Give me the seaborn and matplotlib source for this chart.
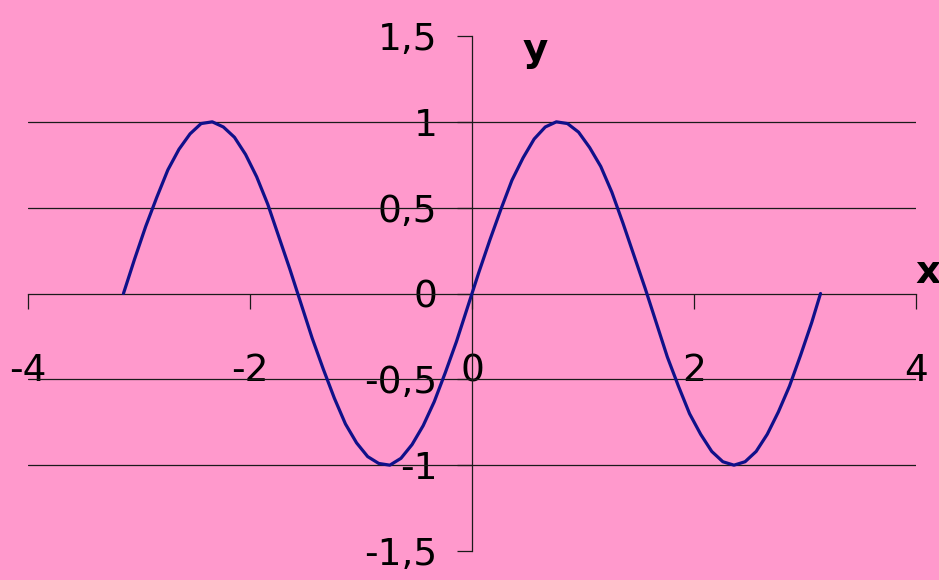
import matplotlib
matplotlib.use('Agg')
import matplotlib.pyplot as plt
import seaborn as sns
import pandas as pd

# valores (x en radianes, y = curva)
x_vals = [-3.14, -3.04, -2.94, -2.84, -2.74, -2.64, -2.54, -2.44, -2.34, -2.24,
          -2.14, -2.04, -1.94, -1.84, -1.74, -1.64, -1.54, -1.44, -1.34, -1.24,
          -1.14, -1.04, -0.94, -0.84, -0.74, -0.64, -0.54, -0.44, -0.34, -0.24,
          -0.14, -0.04, 0.06, 0.16, 0.26, 0.36, 0.46, 0.56, 0.66, 0.76,
          0.86, 0.96, 1.06, 1.16, 1.26, 1.36, 1.46, 1.56, 1.66, 1.76,
          1.86, 1.96, 2.06, 2.16, 2.26, 2.36, 2.46, 2.56, 2.66, 2.76,
          2.86, 2.96, 3.06, 3.14]
y_vals = [0.00, 0.20, 0.39, 0.56, 0.72, 0.84, 0.93, 0.99, 1.00, 0.97,
          0.91, 0.81, 0.68, 0.52, 0.33, 0.14, -0.06, -0.26, -0.44, -0.61,
          -0.76, -0.87, -0.95, -0.99, -1.00, -0.96, -0.88, -0.77, -0.63, -0.46,
          -0.28, -0.08, 0.12, 0.31, 0.49, 0.66, 0.79, 0.90, 0.97, 1.00,
          0.99, 0.94, 0.85, 0.74, 0.59, 0.41, 0.22, 0.03, -0.17, -0.37,
          -0.54, -0.70, -0.82, -0.92, -0.98, -1.00, -0.98, -0.92, -0.82, -0.69,
          -0.54, -0.36, -0.17, 0.00]
x_ticks = [-4, -2, 0, 2, 4]
y_ticks = [-1.5, -1, -0.5, 0, 0.5, 1, 1.5]
y_tick_labels = ['-1,5', '-1', '-0,5', '0', '0,5', '1', '1,5']
grid_lines = [-1, -0.5, 0.5, 1]

rosa = '#FF99CC'
sns.set_style('white', {'axes.facecolor': rosa, 'figure.facecolor': rosa,
                        'text.color': 'black', 'xtick.color': 'black',
                        'ytick.color': 'black'})
plt.rcParams['font.family'] = ['DejaVu Sans']

df = pd.DataFrame({'x': x_vals, 'y': y_vals})

fig = plt.figure(figsize=(9.39, 5.8), dpi=100)
ax = fig.add_axes([28 / 939, 1 - 551 / 580, (916 - 28) / 939, (551 - 36) / 580])

for g in grid_lines:
    ax.axhline(g, color='#1a1a1a', lw=0.9, zorder=1)

sns.lineplot(data=df, x='x', y='y', sort=False, color='#10108A', lw=2.3, ax=ax, zorder=3)

ax.set_xlim(-4, 4)
ax.set_ylim(-1.5, 1.5)
ax.spines['top'].set_visible(False)
ax.spines['right'].set_visible(False)
ax.spines['left'].set_position(('data', 0))
ax.spines['bottom'].set_position(('data', 0))
for s in ['left', 'bottom']:
    ax.spines[s].set_color('#1a1a1a')
    ax.spines[s].set_linewidth(0.9)

ax.set_xticks(x_ticks)
ax.set_xticklabels([str(t) for t in x_ticks])
ax.set_yticks(y_ticks)
ax.set_yticklabels(y_tick_labels)
ax.tick_params(axis='x', bottom=True, direction='out', length=11, width=0.9,
               color='#1a1a1a', labelcolor='black', pad=32, labelsize=27)
ax.tick_params(axis='y', left=True, direction='out', length=11, width=0.9,
               color='#1a1a1a', labelcolor='black', pad=14, labelsize=27)
ax.set_xlabel('')
ax.set_ylabel('')

fig.text(535 / 939, 1 - 50 / 580, 'y', fontsize=28, fontweight='bold',
         color='black', ha='center', va='center')
fig.text(928 / 939, 1 - 272 / 580, 'x', fontsize=28, fontweight='bold',
         color='black', ha='center', va='center')

fig.savefig('out.png', dpi=100, facecolor=rosa)
